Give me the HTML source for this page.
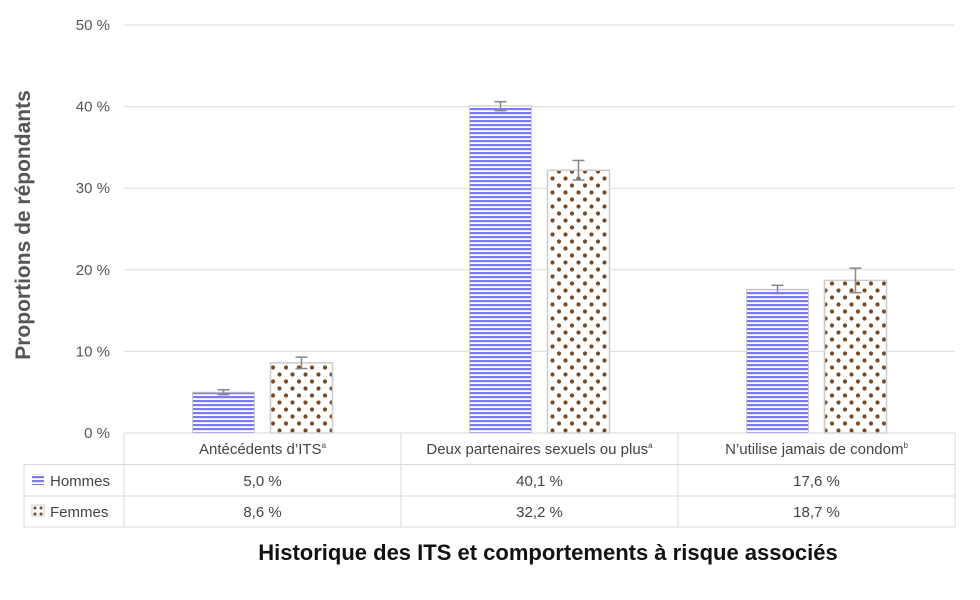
<!DOCTYPE html>
<html><head><meta charset="utf-8"><style>
body{margin:0;background:#fff;font-family:"Liberation Sans",sans-serif}
</style></head><body>
<svg width="980" height="595" viewBox="0 0 980 595">
<defs>
<pattern id="stripes" width="8" height="4" patternUnits="userSpaceOnUse">
<rect width="8" height="4" fill="#fff"/><rect y="0" width="8" height="2.2" fill="#7b7bf6"/>
</pattern>
<pattern id="dots" width="13" height="14" patternUnits="userSpaceOnUse" x="270" y="0">
<rect width="13" height="14" fill="#fff"/><circle cx="3" cy="3.5" r="2.1" fill="#7a4a22"/><circle cx="9.5" cy="10.5" r="2.1" fill="#7a4a22"/>
</pattern>
</defs>
<g id="grid"></g>
<g id="bars"></g>
<g id="table"></g>
<text x="30" y="225" transform="rotate(-90 30 225)" text-anchor="middle" font-size="21" font-weight="bold" fill="#555">Proportions de répondants</text>
<text x="548" y="560" text-anchor="middle" font-size="22" font-weight="bold" fill="#111">Historique des ITS et comportements à risque associés</text>
</svg>
<script>
const categories=["Antécédents d’ITS","Deux partenaires sexuels ou plus","N’utilise jamais de condom"];
const sups=["a","a","b"];
const hommes=[5.0,40.1,17.6];
const femmes=[8.6,32.2,18.7];
const hommesErr=[[4.7,5.3],[39.5,40.6],[17.1,18.1]];
const femmesErr=[[7.9,9.3],[31.0,33.4],[17.2,20.2]];
const ticks=[0,10,20,30,40,50];
const NS="http://www.w3.org/2000/svg";
const y0=433,pxPer=(433-25)/50,colX=124,colW=277;
const y=v=>y0-v*pxPer;
function mk(tag,attrs,parent,text){const e=document.createElementNS(NS,tag);for(const k in attrs)e.setAttribute(k,attrs[k]);if(text!==undefined)e.textContent=text;parent.appendChild(e);return e;}
const grid=document.getElementById('grid'),bars=document.getElementById('bars'),table=document.getElementById('table');
ticks.forEach(t=>{
  const l=mk('line',{x1:124,x2:955,y1:y(t),y2:y(t),stroke:'#d9d9d9','stroke-width':1},grid);
  
  
  const tx=mk('text',{x:110,y:y(t)+5,'text-anchor':'end','font-size':15,fill:'#555'},grid,t+' %');
  
  
});
function errbar(x,lo,hi){
  const g=mk('g',{stroke:'#888','stroke-width':1.5},bars);
  
  
  mk('line',{x1:x,x2:x,y1:y(lo),y2:y(hi)},g);
  mk('line',{x1:x-6,x2:x+6,y1:y(lo),y2:y(lo)},g);
  mk('line',{x1:x-6,x2:x+6,y1:y(hi),y2:y(hi)},g);
}
categories.forEach((c,i)=>{
  const cx=colX+colW*i+colW/2;
  const hx=cx-8-62,fx=cx+8;
  const bh=mk('rect',{x:hx,y:y(hommes[i]),width:62,height:y0-y(hommes[i]),fill:'url(#stripes)',stroke:'#ccc','stroke-width':1},bars);
  
  
  const bf=mk('rect',{x:fx,y:y(femmes[i]),width:62,height:y0-y(femmes[i]),fill:'url(#dots)',stroke:'#ccc','stroke-width':1.5},bars);
  
  
  errbar(hx+31,hommesErr[i][0],hommesErr[i][1]);
  errbar(fx+31,femmesErr[i][0],femmesErr[i][1]);
  const h=mk('text',{x:cx,y:454,'text-anchor':'middle','font-size':15,fill:'#444'},table,c);
  mk('tspan',{'font-size':8,dy:-6},h,sups[i]);
  
  
  const t1=mk('text',{x:cx,y:486,'text-anchor':'middle','font-size':15,fill:'#444'},table,hommes[i].toFixed(1).replace('.',',')+' %');
  
  
  const t2=mk('text',{x:cx,y:517,'text-anchor':'middle','font-size':15,fill:'#444'},table,femmes[i].toFixed(1).replace('.',',')+' %');
  
  
});
const ls={stroke:'#d9d9d9','stroke-width':1};
[[124,955,433,433],[24,955,464.5,464.5],[24,955,496,496],[24,955,527,527],[24,24,464.5,527],[124,124,433,527],[401,401,433,527],[678,678,433,527],[955,955,433,527]].forEach(a=>mk('line',Object.assign({x1:a[0],x2:a[1],y1:a[2],y2:a[3]},ls),table));
const k1=mk('rect',{x:32,y:474,width:12,height:11,fill:'url(#stripes)'},table);


const l1=mk('text',{x:50,y:486,'font-size':15,fill:'#444'},table,'Hommes');


const k2=mk('rect',{x:32,y:505,width:12,height:11,fill:'#fff',stroke:'#ccc'},table);


[[35,508],[41,514],[41,508],[35,514]].forEach(p=>mk('circle',{cx:p[0],cy:p[1],r:1.5,fill:'#7a4a22'},table));
const l2=mk('text',{x:50,y:517,'font-size':15,fill:'#444'},table,'Femmes');


</script>
</body></html>
